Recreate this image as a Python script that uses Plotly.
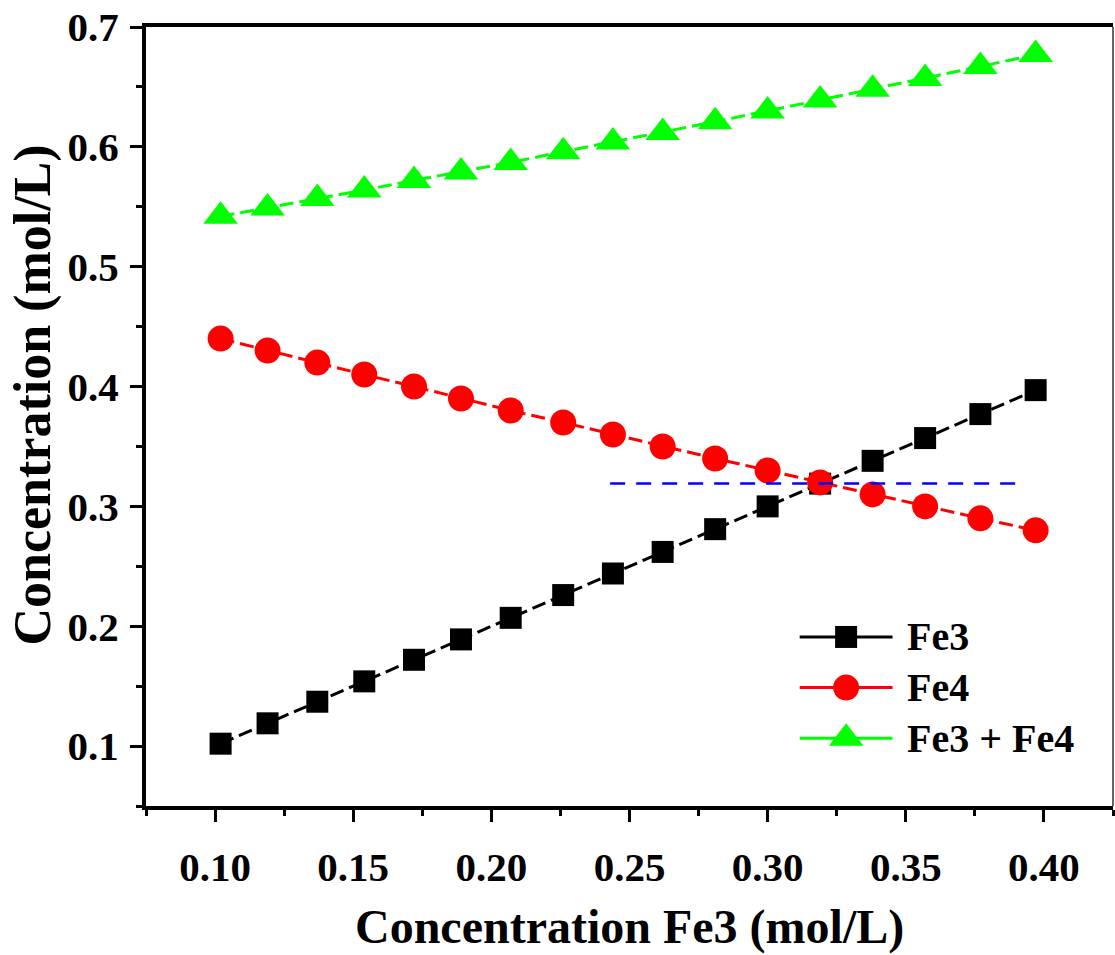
import plotly.graph_objects as go

# Measured concentrations (mol/L)
fe3_x = [0.102, 0.119, 0.137, 0.154, 0.172, 0.189, 0.207, 0.226, 0.244,
         0.262, 0.281, 0.300, 0.319, 0.338, 0.357, 0.377, 0.397]
fe3 = [0.102, 0.119, 0.137, 0.154, 0.172, 0.189, 0.207, 0.226, 0.244,
       0.262, 0.281, 0.300, 0.319, 0.338, 0.357, 0.377, 0.397]
fe4 = [0.44, 0.43, 0.42, 0.41, 0.40, 0.39, 0.38, 0.37, 0.36,
       0.35, 0.34, 0.33, 0.32, 0.31, 0.30, 0.29, 0.28]
fe_sum = [0.542, 0.549, 0.557, 0.564, 0.572, 0.579, 0.587, 0.596, 0.604,
          0.612, 0.621, 0.630, 0.639, 0.648, 0.657, 0.667, 0.677]

# Horizontal reference at the crossing point
ref_x = [0.243, 0.393]
ref_y = [0.319, 0.319]

series_names = ["Fe3", "Fe4", "Fe3 + Fe4"]
colors = ["#000000", "#ff0000", "#00ff00"]
symbols = ["square", "circle", "triangle-up"]
sizes = [22, 26, 30]

FONT = "Liberation Serif"

fig = go.Figure()

for name, ys, c, s, sz in zip(series_names, [fe3, fe4, fe_sum], colors, symbols, sizes):
    fig.add_trace(go.Scatter(
        x=fe3_x, y=ys, name=name, mode="lines+markers",
        line=dict(color=c, width=3, dash="14px,6px"),
        marker=dict(symbol=s, size=sz, color=c, line=dict(width=0)),
        showlegend=False,
    ))

fig.add_trace(go.Scatter(
    x=ref_x, y=ref_y, mode="lines",
    line=dict(color="#0000ff", width=2.5, dash="15px,11px"),
    showlegend=False,
))

# Hand-built legend drawn on a hidden overlay axis (0..1 in both directions)
leg_x0, leg_xm, leg_x1, leg_tx = 0.676, 0.724, 0.772, 0.785
leg_rows = [0.217, 0.152, 0.087]
for name, c, s, sz, ry in zip(series_names, colors, symbols, sizes, leg_rows):
    fig.add_trace(go.Scatter(
        x=[leg_x0, leg_x1], y=[ry, ry], mode="lines",
        line=dict(color=c, width=3), xaxis="x2", yaxis="y2",
        showlegend=False, hoverinfo="skip",
    ))
    fig.add_trace(go.Scatter(
        x=[leg_xm], y=[ry], mode="markers",
        marker=dict(symbol=s, size=sz, color=c, line=dict(width=0)),
        xaxis="x2", yaxis="y2", showlegend=False, hoverinfo="skip",
    ))
    fig.add_annotation(
        x=leg_tx, y=ry, xref="paper", yref="paper", text=name,
        showarrow=False, xanchor="left", yanchor="middle",
        font=dict(family=FONT, size=40, color="#000000", weight="bold"),
    )

tick_font = dict(family=FONT, size=41, color="#000000", weight="bold")

fig.update_layout(
    width=1115, height=955,
    margin=dict(l=146, r=2, t=27, b=149),
    paper_bgcolor="white", plot_bgcolor="white",
    showlegend=False,
    xaxis=dict(
        range=[0.075, 0.425], tick0=0.1, dtick=0.05, tickformat=".2f",
        showgrid=False, zeroline=False,
        showline=True, linecolor="#000000", linewidth=4, mirror=True,
        ticks="outside", ticklen=12, tickwidth=3, tickcolor="#000000",
        minor=dict(ticks="outside", ticklen=6, tickwidth=3, tickcolor="#000000",
                   tick0=0.075, dtick=0.025, showgrid=False),
        tickfont=tick_font, ticklabelstandoff=10,
    ),
    yaxis=dict(
        range=[0.05, 0.7], tick0=0.1, dtick=0.1, tickformat=".1f",
        showgrid=False, zeroline=False,
        showline=True, linecolor="#000000", linewidth=4,
        ticks="outside", ticklen=12, tickwidth=3, tickcolor="#000000",
        minor=dict(ticks="outside", ticklen=6, tickwidth=3, tickcolor="#000000",
                   tick0=0.05, dtick=0.05, showgrid=False),
        tickfont=tick_font, ticklabelstandoff=3,
    ),
    xaxis2=dict(overlaying="x", range=[0, 1], visible=False, fixedrange=True),
    yaxis2=dict(overlaying="y", range=[0, 1], visible=False, fixedrange=True),
)

# Thin right border of the frame
fig.add_shape(type="line", xref="paper", yref="paper", x0=1, x1=1, y0=0, y1=1,
              line=dict(color="#333333", width=1.5))

# Axis titles
fig.add_annotation(
    x=0.5, y=-0.155, xref="paper", yref="paper", text="Concentration Fe3 (mol/L)",
    showarrow=False, xanchor="center", yanchor="middle",
    font=dict(family=FONT, size=48, color="#000000", weight="bold"),
)
fig.add_annotation(
    x=-0.117, y=0.528, xref="paper", yref="paper", text="Concentration (mol/L)",
    showarrow=False, xanchor="center", yanchor="middle", textangle=-90,
    font=dict(family=FONT, size=52, color="#000000", weight="bold"),
)

fig.write_html("out.html")
